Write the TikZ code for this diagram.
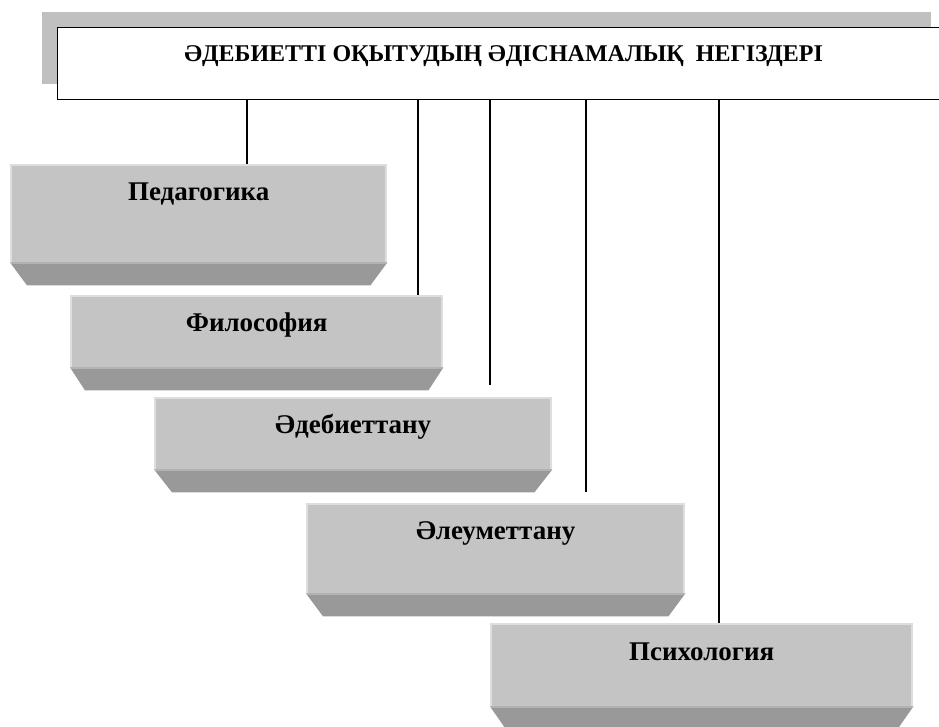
\documentclass[tikz,border=0pt]{standalone}
\usepackage{fontspec}
\setmainfont{Liberation Serif}

\definecolor{hdrgray}{HTML}{C0C0C0}
\definecolor{face}{HTML}{C4C4C4}
\definecolor{rim}{HTML}{DEDEDE}
\definecolor{base}{HTML}{999999}
\definecolor{baserim}{HTML}{B2B2B2}

\begin{document}
\begin{tikzpicture}[x=1pt,y=-1pt,
    plate/.style={rectangle, fill=face, anchor=north west, inner sep=0pt},
    title/.style={font=\bfseries\fontsize{27}{30}\selectfont, inner sep=0pt},
    link/.style={line width=1.3pt}]

  \useasboundingbox (0,0) rectangle (939,726);

  % header with its grey shadow
  \fill[hdrgray] (42,12) rectangle (931,84);
  \node[draw, line width=1.3pt, fill=white, anchor=north west,
        minimum width=892, minimum height=72] (head) at (57,27) {};
  \node[title, font=\bfseries\fontsize{24}{27}\selectfont] (head-t)
        at ([shift={(0,29)}]head.north) {ӘДЕБИЕТТІ ОҚЫТУДЫҢ ӘДІСНАМАЛЫҚ~ НЕГІЗДЕРІ};

  \begin{scope}[every node/.style={plate}]
    \node[minimum width=377, minimum height=98] (ped) at (10,164)  {};
    \node[minimum width=373, minimum height=72] (fil) at (70,295)  {};
    \node[minimum width=398, minimum height=72] (ade) at (154,397) {};
    \node[minimum width=379, minimum height=90] (ale) at (306,503) {};
    \node[minimum width=423, minimum height=83] (psy) at (490,623) {};
  \end{scope}

  % bevelled edges and the dark foot of each plate
  \foreach \p/\d in {ped/17, fil/15, ade/18, ale/17, psy/16} {
    \fill[base] (\p.south west) -- (\p.south east) -- ([shift={(-\d,23)}]\p.south east)
      -- ([shift={(\d,23)}]\p.south west) -- cycle;
    \draw[baserim, line width=2pt] ([shift={(1,1)}]\p.south west) -- ([shift={(-1,1)}]\p.south east);
    \draw[rim, line width=2.5pt] ([shift={(1.2,0)}]\p.south west) -- ([shift={(1.2,1.2)}]\p.north west)
      -- ([shift={(-1.2,1.2)}]\p.north east) -- ([shift={(-1.2,0)}]\p.south east);
  }

  \begin{scope}[every node/.style={title}]
    \node (ped-t) at ([shift={(0,30)}]ped.north) {Педагогика};
    \node (fil-t) at ([shift={(0,30)}]fil.north) {Философия};
    \node (ade-t) at ([shift={(0,30)}]ade.north) {Әдебиеттану};
    \node (ale-t) at ([shift={(0,30)}]ale.north) {Әлеуметтану};
    \node (psy-t) at ([shift={(0,29)}]psy.north) {Психология};
  \end{scope}

  \coordinate (ade-tip) at (490,385);
  \coordinate (ale-tip) at (586,492);

  \draw[link] (head.south -| 247,0) -- (ped.north -| 247,0);
  \draw[link] (head.south -| 418,0) -- (fil.north -| 418,0);
  \draw[link] (head.south -| ade-tip) -- (ade-tip);
  \draw[link] (head.south -| ale-tip) -- (ale-tip);
  \draw[link] (head.south -| 719,0) -- (psy.north -| 719,0);

\end{tikzpicture}
\end{document}
